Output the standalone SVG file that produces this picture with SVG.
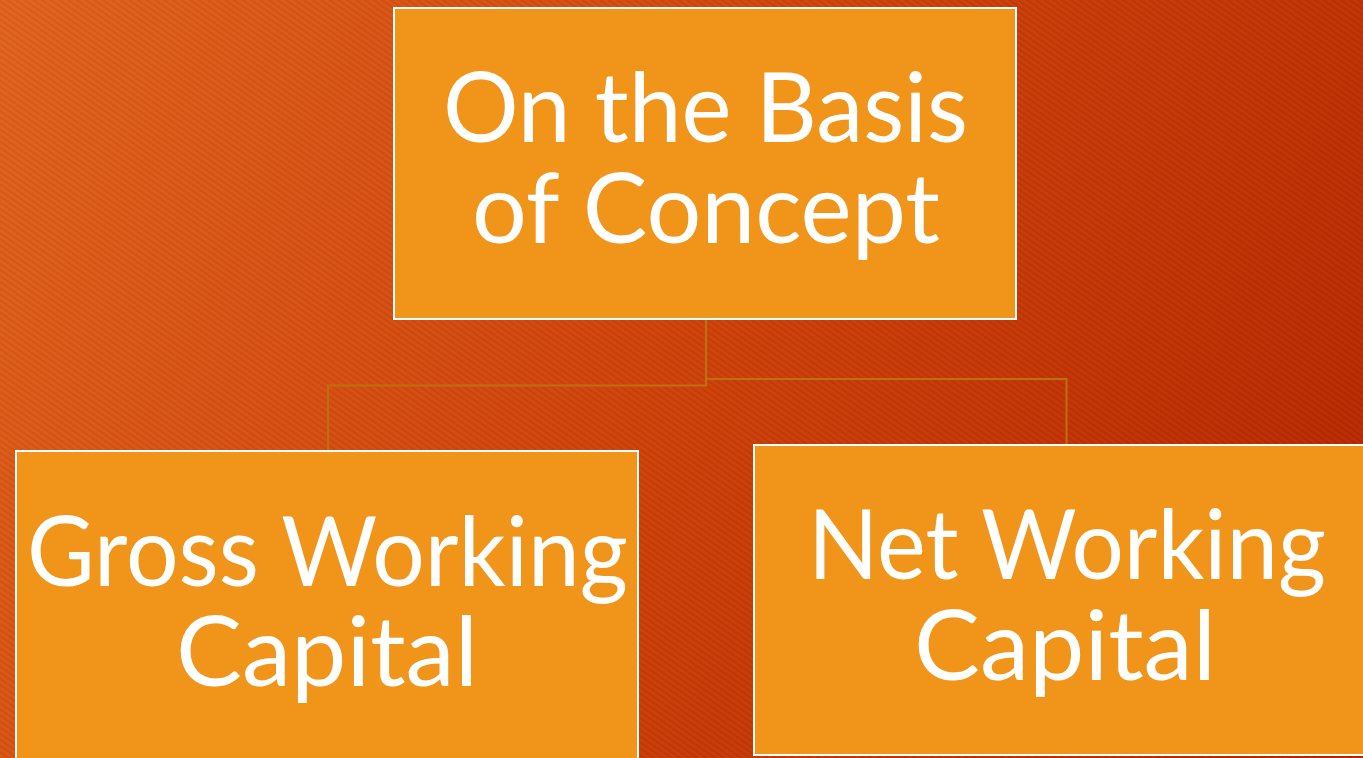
<svg xmlns="http://www.w3.org/2000/svg" width="1363" height="758" viewBox="0 0 1363 758">
  <defs>
    <linearGradient id="bg" x1="0" y1="0" x2="1363" y2="758" gradientUnits="userSpaceOnUse">
      <stop offset="0" stop-color="#E3641E"/>
      <stop offset="0.5" stop-color="#D0420A"/>
      <stop offset="1" stop-color="#B52500"/>
    </linearGradient>
    <pattern id="stripes" width="5" height="5" patternUnits="userSpaceOnUse" patternTransform="rotate(35)">
      <rect x="0" y="0" width="5" height="2" fill="#000" fill-opacity="0.06"/>
      <rect x="0" y="2.5" width="5" height="1" fill="#fff" fill-opacity="0.03"/>
    </pattern>
    <style>
      .box { fill: #F0951A; stroke: #FFFFFF; stroke-width: 2; }
      .conn { fill: none; stroke: #B9720F; stroke-width: 2; }
      .lbl { font-family: Lato, "Open Sans", "Liberation Sans", sans-serif; font-size: 97px; fill: #FFFFFF; text-anchor: middle; }
    </style>
  </defs>
  <rect x="0" y="0" width="1363" height="758" fill="url(#bg)"/>
  <rect x="0" y="0" width="1363" height="758" fill="url(#stripes)"/>
  <g id="connectors">
    <path class="conn" d="M706 320 V385.5 H328 V451"/>
    <path class="conn" d="M706 379 H1066.5 V445"/>
  </g>
  <g id="node-top">
    <rect class="box" x="394" y="8" width="622" height="311"/>
    <text class="lbl" x="705.5" y="142" textLength="525" lengthAdjust="spacingAndGlyphs">On the Basis</text>
    <text class="lbl" x="706" y="243" textLength="468" lengthAdjust="spacingAndGlyphs">of Concept</text>
  </g>
  <g id="node-gross">
    <rect class="box" x="16" y="451" width="622" height="330"/>
    <text class="lbl" x="327.5" y="586" textLength="601" lengthAdjust="spacingAndGlyphs">Gross Working</text>
    <text class="lbl" x="327" y="686" textLength="302" lengthAdjust="spacingAndGlyphs">Capital</text>
  </g>
  <g id="node-net">
    <rect class="box" x="754" y="445" width="640" height="310"/>
    <text class="lbl" x="1067" y="579" textLength="518" lengthAdjust="spacingAndGlyphs">Net Working</text>
    <text class="lbl" x="1065" y="680" textLength="302" lengthAdjust="spacingAndGlyphs">Capital</text>
  </g>
</svg>
